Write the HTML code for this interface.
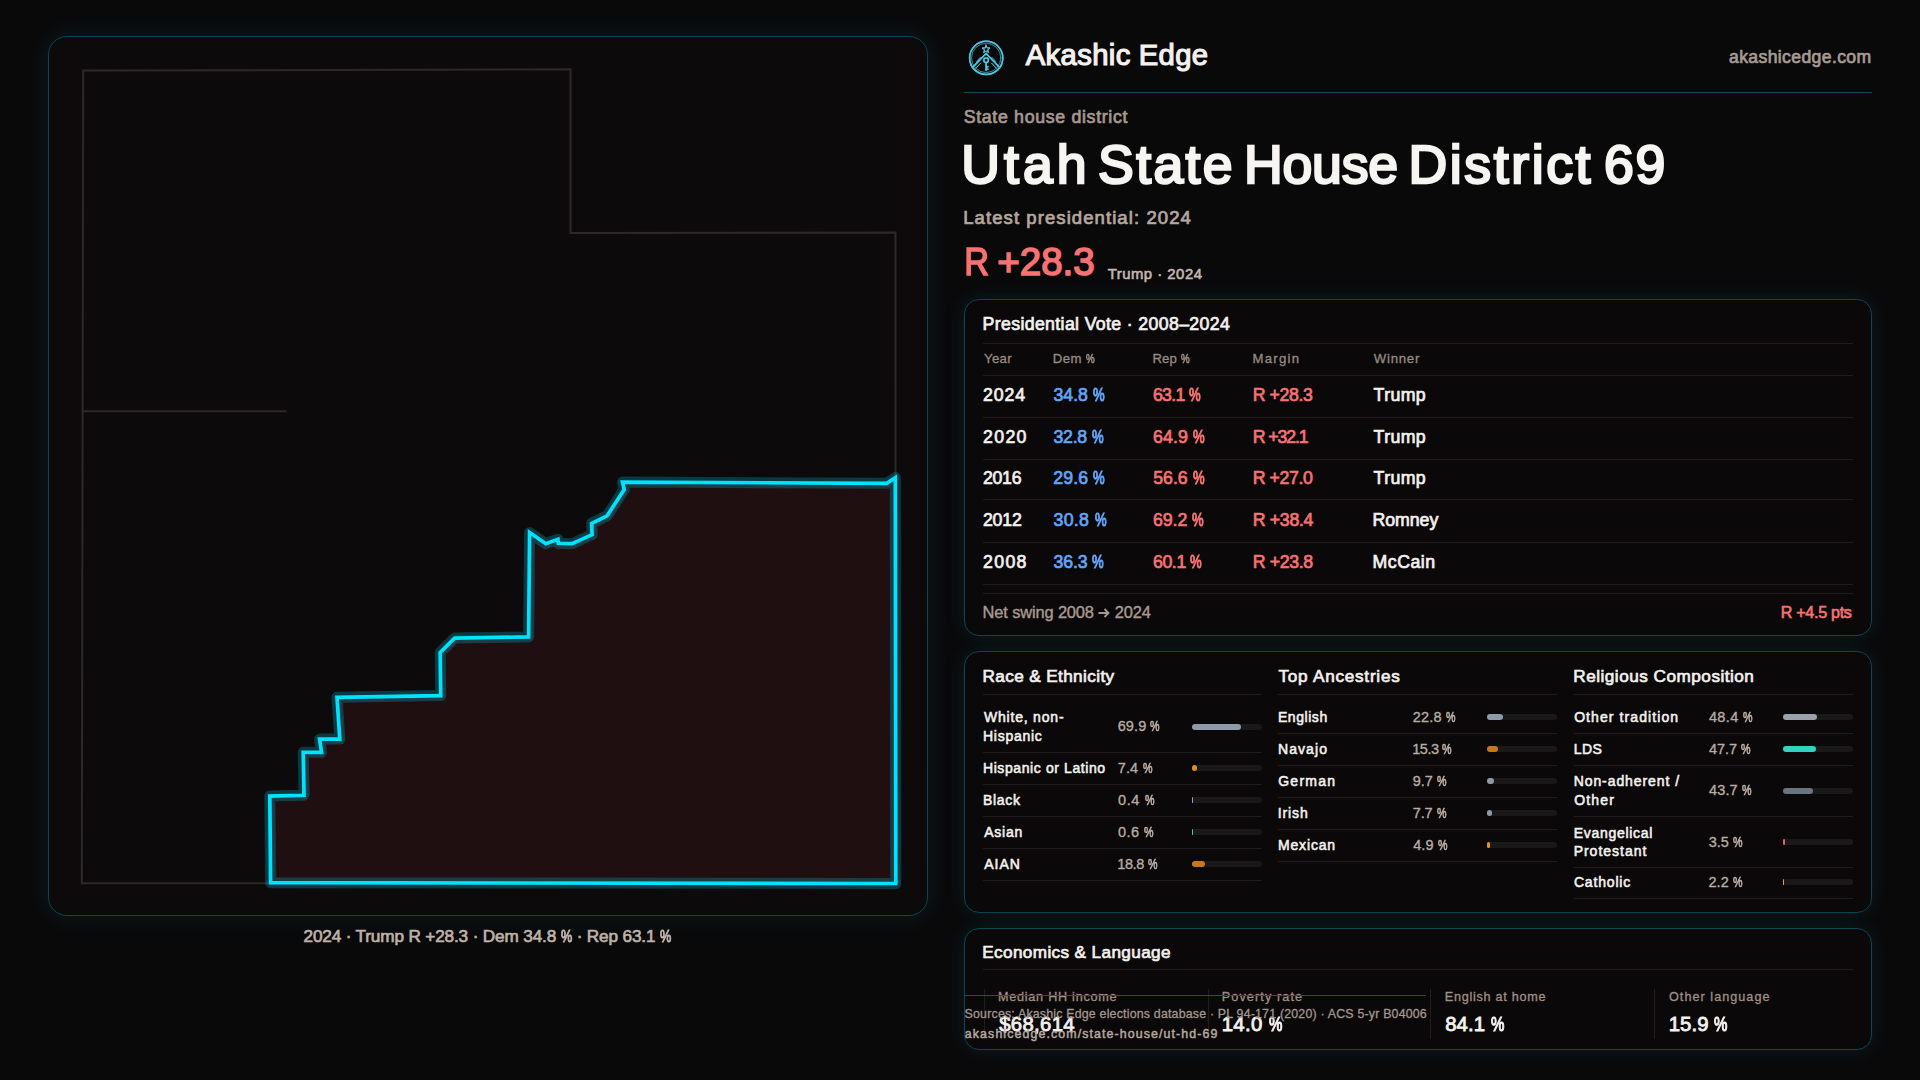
<!DOCTYPE html>
<html><head><meta charset="utf-8"><title>Utah State House District 69</title>
<style>
html,body{margin:0;padding:0;}
body{width:1920px;height:1080px;overflow:hidden;background:#0a090a;position:relative;font-family:"Liberation Sans", sans-serif;}
.t{position:absolute;white-space:nowrap;line-height:1;}
.panel{position:absolute;box-sizing:border-box;border:1px solid #0b4652;background:#0a0809;box-shadow:0 0 20px rgba(34,200,230,0.11);}
.sep{position:absolute;height:1px;background:#201c1d;}
.vsep{position:absolute;width:1px;background:#201c1d;}
.trk{position:absolute;height:6px;border-radius:3px;background:#1a191a;width:70px;}
.pc{display:inline-block;transform:scaleX(.74);transform-origin:0 0;width:.66em;-webkit-text-stroke-color:currentColor}.ar{display:inline-block;vertical-align:baseline;position:relative;top:0.5px}
.fil{position:absolute;left:0;top:0;height:6px;border-radius:3px;}
</style></head><body>

<div class="panel" style="left:48px;top:36px;width:880px;height:880px;border-radius:19px;background:#0c0a0b;box-shadow:0 0 26px rgba(34,200,230,0.11);"></div>
<svg style="position:absolute;left:0;top:0" width="1920" height="1080" viewBox="0 0 1920 1080">
<path d="M83.2,70.6 L570.5,69.3 L570.5,233.1 L895.5,232.5 L895.6,883.3 L81.8,883.3 Z M83.1,411.3 L286.3,411.3" fill="none" stroke="#2d2929" stroke-width="2"/>
<path d="M895.8,883.5 L270.6,882.7 L269.8,796.1 L304.0,795.3 L303.2,752.3 L321.5,752.3 L319.6,739.1 L339.8,739.1 L337.0,697.3 L440.7,695.6 L440.2,652.5 L454.6,638.1 L528.6,636.9 L529.6,532.5 L545.8,543.7 L557.9,539.2 L558.3,543.3 L572.1,543.7 L592.1,534.6 L591.7,523.3 L607.1,515.8 L624.2,489.6 L622.5,482.1 L886.7,483.3 L895.3,477.6 Z" fill="#1f0f11" stroke="rgba(0,200,235,0.25)" stroke-width="11" stroke-linejoin="round"/>
<path d="M895.8,883.5 L270.6,882.7 L269.8,796.1 L304.0,795.3 L303.2,752.3 L321.5,752.3 L319.6,739.1 L339.8,739.1 L337.0,697.3 L440.7,695.6 L440.2,652.5 L454.6,638.1 L528.6,636.9 L529.6,532.5 L545.8,543.7 L557.9,539.2 L558.3,543.3 L572.1,543.7 L592.1,534.6 L591.7,523.3 L607.1,515.8 L624.2,489.6 L622.5,482.1 L886.7,483.3 L895.3,477.6 Z" fill="none" stroke="#00e3ff" stroke-width="3.7" stroke-linejoin="miter"/>
</svg>
<svg style="position:absolute;left:962px;top:34px" width="48" height="48" viewBox="0 0 48 48">
<defs><filter id="gl" x="-30%" y="-30%" width="160%" height="160%"><feGaussianBlur stdDeviation="0.6" result="b"/><feMerge><feMergeNode in="b"/><feMergeNode in="SourceGraphic"/></feMerge></filter></defs>
<g fill="none" stroke="#48c6de" filter="url(#gl)" stroke-linecap="round" stroke-linejoin="round">
<circle cx="24.2" cy="23.9" r="16.6" stroke-width="1.5"/>
<circle cx="24.2" cy="23.9" r="14.7" stroke-width="0.7" opacity="0.6"/>
<path d="M11.5 32.5 L24.1 19.4 L36.7 32.5" stroke-width="1.5"/>
<path d="M13.8 34.2 L18.6 29.2 M34.4 34.2 L29.6 29.2" stroke-width="1.0" opacity="0.75"/>
<path d="M14.5 27.5 L18.4 23.3 M33.7 27.5 L29.8 23.3" stroke-width="0.9" opacity="0.6"/>
<path d="M24.1 11.2 L25.1 13.9 L28 14 L25.7 15.8 L26.5 18.6 L24.1 17 L21.7 18.6 L22.5 15.8 L20.2 14 L23.1 13.9 Z" stroke-width="1.0"/>
<circle cx="24.1" cy="26.2" r="2.3" stroke-width="1.4"/>
<path d="M24.1 28.5 L24.1 36.6 M24.1 32.8 L26.1 32.8 M24.1 35.1 L26.1 35.1" stroke-width="1.4"/>
</g></svg>
<div style="position:absolute;left:964px;top:92px;width:908px;height:1px;background:#0e4854"></div>
<div class="panel" style="left:964px;top:299px;width:908px;height:337px;border-radius:15px;"></div>
<div class="panel" style="left:964px;top:651px;width:908px;height:262px;border-radius:15px;"></div>
<div class="panel" style="left:964px;top:928px;width:908px;height:122px;border-radius:15px;"></div>
<div class="sep" style="left:983px;top:343px;width:870px"></div>
<div class="sep" style="left:983px;top:375px;width:870px"></div>
<div class="sep" style="left:983px;top:417px;width:870px"></div>
<div class="sep" style="left:983px;top:459px;width:870px"></div>
<div class="sep" style="left:983px;top:499px;width:870px"></div>
<div class="sep" style="left:983px;top:542px;width:870px"></div>
<div class="sep" style="left:983px;top:584px;width:870px"></div>
<div class="sep" style="left:983px;top:593px;width:870px"></div>
<div class="sep" style="left:983px;top:694px;width:279px"></div>
<div class="sep" style="left:983px;top:752px;width:279px"></div>
<div class="sep" style="left:983px;top:784px;width:279px"></div>
<div class="sep" style="left:983px;top:816px;width:279px"></div>
<div class="sep" style="left:983px;top:848px;width:279px"></div>
<div class="sep" style="left:983px;top:880px;width:279px"></div>
<div class="sep" style="left:1278px;top:694px;width:279px"></div>
<div class="sep" style="left:1278px;top:733px;width:279px"></div>
<div class="sep" style="left:1278px;top:765px;width:279px"></div>
<div class="sep" style="left:1278px;top:797px;width:279px"></div>
<div class="sep" style="left:1278px;top:829px;width:279px"></div>
<div class="sep" style="left:1278px;top:861px;width:279px"></div>
<div class="sep" style="left:1574px;top:694px;width:279px"></div>
<div class="sep" style="left:1574px;top:733px;width:279px"></div>
<div class="sep" style="left:1574px;top:765px;width:279px"></div>
<div class="sep" style="left:1574px;top:816px;width:279px"></div>
<div class="sep" style="left:1574px;top:867px;width:279px"></div>
<div class="sep" style="left:1574px;top:898px;width:279px"></div>
<div class="trk" style="left:1192.0px;top:724.0px"><div class="fil" style="width:48.9px;background:#8e99aa"></div></div>
<div class="trk" style="left:1192.0px;top:764.9px"><div class="fil" style="width:5.2px;background:#d98e1a"></div></div>
<div class="trk" style="left:1192.0px;top:796.8px"><div class="fil" style="width:1.0px;background:#a78bfa"></div></div>
<div class="trk" style="left:1192.0px;top:828.8px"><div class="fil" style="width:1.0px;background:#34d399"></div></div>
<div class="trk" style="left:1192.0px;top:860.9px"><div class="fil" style="width:13.2px;background:#c8781a"></div></div>
<div class="trk" style="left:1487.0px;top:713.8px"><div class="fil" style="width:16.0px;background:#8e99aa"></div></div>
<div class="trk" style="left:1487.0px;top:745.8px"><div class="fil" style="width:10.7px;background:#c8781a"></div></div>
<div class="trk" style="left:1487.0px;top:777.8px"><div class="fil" style="width:6.8px;background:#8e99aa"></div></div>
<div class="trk" style="left:1487.0px;top:809.8px"><div class="fil" style="width:5.4px;background:#8e99aa"></div></div>
<div class="trk" style="left:1487.0px;top:841.8px"><div class="fil" style="width:3.4px;background:#e3960f"></div></div>
<div class="trk" style="left:1782.7px;top:713.8px"><div class="fil" style="width:33.9px;background:#9ca0a8"></div></div>
<div class="trk" style="left:1782.7px;top:745.8px"><div class="fil" style="width:33.4px;background:#2dd4bf"></div></div>
<div class="trk" style="left:1782.7px;top:787.8px"><div class="fil" style="width:30.6px;background:#6b7280"></div></div>
<div class="trk" style="left:1782.7px;top:838.8px"><div class="fil" style="width:2.5px;background:#e06666"></div></div>
<div class="trk" style="left:1782.7px;top:878.8px"><div class="fil" style="width:1.5px;background:#e0a820"></div></div>
<div class="sep" style="left:983px;top:969px;width:870px"></div>
<div class="vsep" style="left:984px;top:989px;height:50px"></div>
<div class="vsep" style="left:1208px;top:989px;height:50px"></div>
<div class="vsep" style="left:1430px;top:989px;height:50px"></div>
<div class="vsep" style="left:1654px;top:989px;height:50px"></div>
<div class="t" style="left:1025.65px;top:41.45px;font-size:29.26px;font-weight:400;letter-spacing:0.368px;color:#f4f1ee;-webkit-text-stroke:1.17px #f4f1ee;">Akashic</div>
<div class="t" style="left:1138.75px;top:41.45px;font-size:29.26px;font-weight:400;letter-spacing:0.301px;color:#f4f1ee;-webkit-text-stroke:1.17px #f4f1ee;">Edge</div>
<div class="t" style="left:1729.05px;top:48.97px;font-size:17.58px;font-weight:400;letter-spacing:0.375px;color:#a89b93;-webkit-text-stroke:0.703px #a89b93;">akashicedge.com</div>
<div class="t" style="left:963.70px;top:109.45px;font-size:17.72px;font-weight:400;letter-spacing:0.695px;color:#a69890;-webkit-text-stroke:0.709px #a69890;">State house district</div>
<div class="t" style="left:961.20px;top:138.00px;font-size:53.62px;font-weight:400;letter-spacing:4.047px;color:#f7f5f2;-webkit-text-stroke:2.413px #f7f5f2;">Utah</div>
<div class="t" style="left:1098.10px;top:138.00px;font-size:53.62px;font-weight:400;letter-spacing:2.34px;color:#f7f5f2;-webkit-text-stroke:2.413px #f7f5f2;">State</div>
<div class="t" style="left:1244.05px;top:138.00px;font-size:53.62px;font-weight:400;letter-spacing:-0.237px;color:#f7f5f2;-webkit-text-stroke:2.413px #f7f5f2;">House</div>
<div class="t" style="left:1408.55px;top:138.00px;font-size:53.62px;font-weight:400;letter-spacing:2.586px;color:#f7f5f2;-webkit-text-stroke:2.413px #f7f5f2;">District</div>
<div class="t" style="left:1604.00px;top:138.00px;font-size:53.62px;font-weight:400;letter-spacing:1.614px;color:#f7f5f2;-webkit-text-stroke:2.413px #f7f5f2;">69</div>
<div class="t" style="left:963.20px;top:208.83px;font-size:18.54px;font-weight:400;letter-spacing:1.071px;color:#b5a79e;-webkit-text-stroke:0.742px #b5a79e;">Latest presidential: 2024</div>
<div class="t" style="left:964.25px;top:242.55px;font-size:38.6px;font-weight:400;letter-spacing:-0.062px;color:#f87171;-webkit-text-stroke:1.544px #f87171;transform:scaleX(0.89);transform-origin:2.25px 0;">R</div>
<div class="t" style="left:997.30px;top:242.55px;font-size:38.6px;font-weight:400;letter-spacing:-0.062px;color:#f87171;-webkit-text-stroke:1.544px #f87171;">+28.3</div>
<div class="t" style="left:1107.70px;top:267.34px;font-size:14.84px;font-weight:400;letter-spacing:0.523px;color:#c5b8af;-webkit-text-stroke:0.594px #c5b8af;">Trump · 2024</div>
<div class="t" style="left:982.60px;top:316.45px;font-size:17.72px;font-weight:400;letter-spacing:0.357px;color:#f4f1ee;-webkit-text-stroke:0.709px #f4f1ee;">Presidential Vote · 2008–2024</div>
<div class="t" style="left:984.00px;top:352.27px;font-size:13.2px;font-weight:400;letter-spacing:0.342px;color:#978a83;-webkit-text-stroke:0.317px #978a83;">Year</div>
<div class="t" style="left:1052.75px;top:352.27px;font-size:13.2px;font-weight:400;letter-spacing:0.5px;color:#978a83;-webkit-text-stroke:0.317px #978a83;">Dem <span class="pc" style="-webkit-text-stroke-width:0.67px">%</span></div>
<div class="t" style="left:1152.50px;top:352.27px;font-size:13.2px;font-weight:400;letter-spacing:0.064px;color:#978a83;-webkit-text-stroke:0.317px #978a83;">Rep <span class="pc" style="-webkit-text-stroke-width:0.67px">%</span></div>
<div class="t" style="left:1252.50px;top:352.27px;font-size:13.2px;font-weight:400;letter-spacing:1.255px;color:#978a83;-webkit-text-stroke:0.317px #978a83;">Margin</div>
<div class="t" style="left:1373.75px;top:352.27px;font-size:13.2px;font-weight:400;letter-spacing:0.755px;color:#978a83;-webkit-text-stroke:0.317px #978a83;">Winner</div>
<div class="t" style="left:982.60px;top:603.50px;font-size:16.43px;font-weight:400;letter-spacing:-0.138px;color:#a89a91;-webkit-text-stroke:0.394px #a89a91;">Net swing 2008 <svg class="ar" width="12" height="10" viewBox="0 0 12 10"><path d="M0.5 5H10.5M6.5 1L10.5 5L6.5 9" fill="none" stroke="currentColor" stroke-width="1.8"/></svg> 2024</div>
<div class="t" style="left:1780.70px;top:603.68px;font-size:16.07px;font-weight:400;letter-spacing:-0.278px;color:#f87171;-webkit-text-stroke:0.643px #f87171;">R +4.5 pts</div>
<div class="t" style="left:982.50px;top:668.22px;font-size:17.17px;font-weight:400;letter-spacing:0.383px;color:#f4f1ee;-webkit-text-stroke:0.687px #f4f1ee;">Race & Ethnicity</div>
<div class="t" style="left:1278.50px;top:668.22px;font-size:17.17px;font-weight:400;letter-spacing:0.745px;color:#f4f1ee;-webkit-text-stroke:0.687px #f4f1ee;">Top Ancestries</div>
<div class="t" style="left:1573.30px;top:668.22px;font-size:17.17px;font-weight:400;letter-spacing:0.496px;color:#f4f1ee;-webkit-text-stroke:0.687px #f4f1ee;">Religious Composition</div>
<div class="t" style="left:982.25px;top:943.92px;font-size:17.17px;font-weight:400;letter-spacing:0.37px;color:#f4f1ee;-webkit-text-stroke:0.687px #f4f1ee;">Economics & Language</div>
<div class="t" style="left:303.50px;top:927.92px;font-size:17.17px;font-weight:400;letter-spacing:-0.143px;color:#bfb2a9;-webkit-text-stroke:0.687px #bfb2a9;">2024 · Trump R +28.3 · Dem 34.8 <span class="pc" style="-webkit-text-stroke-width:1.04px">%</span> · Rep 63.1 <span class="pc" style="-webkit-text-stroke-width:1.04px">%</span></div>
<div class="t" style="left:982.90px;top:387.05px;font-size:17.72px;font-weight:400;letter-spacing:0.949px;color:#f4f1ee;-webkit-text-stroke:0.709px #f4f1ee;">2024</div>
<div class="t" style="left:1053.50px;top:387.05px;font-size:17.72px;font-weight:400;letter-spacing:0.0px;color:#60a5fa;-webkit-text-stroke:0.709px #60a5fa;">34.8 <span class="pc" style="-webkit-text-stroke-width:1.06px">%</span></div>
<div class="t" style="left:1152.90px;top:387.05px;font-size:17.72px;font-weight:400;letter-spacing:-0.66px;color:#f87171;-webkit-text-stroke:0.709px #f87171;">63.1 <span class="pc" style="-webkit-text-stroke-width:1.06px">%</span></div>
<div class="t" style="left:1252.70px;top:387.05px;font-size:17.72px;font-weight:400;letter-spacing:-0.384px;color:#f87171;-webkit-text-stroke:0.709px #f87171;">R +28.3</div>
<div class="t" style="left:1373.60px;top:387.05px;font-size:17.72px;font-weight:400;letter-spacing:0.388px;color:#f4f1ee;-webkit-text-stroke:0.709px #f4f1ee;">Trump</div>
<div class="t" style="left:982.90px;top:429.05px;font-size:17.72px;font-weight:400;letter-spacing:1.399px;color:#f4f1ee;-webkit-text-stroke:0.709px #f4f1ee;">2020</div>
<div class="t" style="left:1053.50px;top:429.05px;font-size:17.72px;font-weight:400;letter-spacing:-0.25px;color:#60a5fa;-webkit-text-stroke:0.709px #60a5fa;">32.8 <span class="pc" style="-webkit-text-stroke-width:1.06px">%</span></div>
<div class="t" style="left:1152.90px;top:429.05px;font-size:17.72px;font-weight:400;letter-spacing:0.2px;color:#f87171;-webkit-text-stroke:0.709px #f87171;">64.9 <span class="pc" style="-webkit-text-stroke-width:1.06px">%</span></div>
<div class="t" style="left:1252.70px;top:429.05px;font-size:17.72px;font-weight:400;letter-spacing:-1.101px;color:#f87171;-webkit-text-stroke:0.709px #f87171;">R +32.1</div>
<div class="t" style="left:1373.60px;top:429.05px;font-size:17.72px;font-weight:400;letter-spacing:0.388px;color:#f4f1ee;-webkit-text-stroke:0.709px #f4f1ee;">Trump</div>
<div class="t" style="left:982.90px;top:470.05px;font-size:17.72px;font-weight:400;letter-spacing:-0.251px;color:#f4f1ee;-webkit-text-stroke:0.709px #f4f1ee;">2016</div>
<div class="t" style="left:1053.25px;top:470.05px;font-size:17.72px;font-weight:400;letter-spacing:0.1px;color:#60a5fa;-webkit-text-stroke:0.709px #60a5fa;">29.6 <span class="pc" style="-webkit-text-stroke-width:1.06px">%</span></div>
<div class="t" style="left:1153.15px;top:470.05px;font-size:17.72px;font-weight:400;letter-spacing:0.03px;color:#f87171;-webkit-text-stroke:0.709px #f87171;">56.6 <span class="pc" style="-webkit-text-stroke-width:1.06px">%</span></div>
<div class="t" style="left:1252.70px;top:470.05px;font-size:17.72px;font-weight:400;letter-spacing:-0.393px;color:#f87171;-webkit-text-stroke:0.709px #f87171;">R +27.0</div>
<div class="t" style="left:1373.60px;top:470.05px;font-size:17.72px;font-weight:400;letter-spacing:0.388px;color:#f4f1ee;-webkit-text-stroke:0.709px #f4f1ee;">Trump</div>
<div class="t" style="left:982.90px;top:512.05px;font-size:17.72px;font-weight:400;letter-spacing:-0.167px;color:#f4f1ee;-webkit-text-stroke:0.709px #f4f1ee;">2012</div>
<div class="t" style="left:1053.50px;top:512.05px;font-size:17.72px;font-weight:400;letter-spacing:0.33px;color:#60a5fa;-webkit-text-stroke:0.709px #60a5fa;">30.8 <span class="pc" style="-webkit-text-stroke-width:1.06px">%</span></div>
<div class="t" style="left:1152.90px;top:512.05px;font-size:17.72px;font-weight:400;letter-spacing:-0.02px;color:#f87171;-webkit-text-stroke:0.709px #f87171;">69.2 <span class="pc" style="-webkit-text-stroke-width:1.06px">%</span></div>
<div class="t" style="left:1252.70px;top:512.05px;font-size:17.72px;font-weight:400;letter-spacing:-0.292px;color:#f87171;-webkit-text-stroke:0.709px #f87171;">R +38.4</div>
<div class="t" style="left:1372.60px;top:512.05px;font-size:17.72px;font-weight:400;letter-spacing:-0.052px;color:#f4f1ee;-webkit-text-stroke:0.709px #f4f1ee;">Romney</div>
<div class="t" style="left:982.90px;top:553.85px;font-size:17.72px;font-weight:400;letter-spacing:1.398px;color:#f4f1ee;-webkit-text-stroke:0.709px #f4f1ee;">2008</div>
<div class="t" style="left:1053.50px;top:553.85px;font-size:17.72px;font-weight:400;letter-spacing:-0.15px;color:#60a5fa;-webkit-text-stroke:0.709px #60a5fa;">36.3 <span class="pc" style="-webkit-text-stroke-width:1.06px">%</span></div>
<div class="t" style="left:1152.90px;top:553.85px;font-size:17.72px;font-weight:400;letter-spacing:-0.36px;color:#f87171;-webkit-text-stroke:0.709px #f87171;">60.1 <span class="pc" style="-webkit-text-stroke-width:1.06px">%</span></div>
<div class="t" style="left:1252.70px;top:553.85px;font-size:17.72px;font-weight:400;letter-spacing:-0.351px;color:#f87171;-webkit-text-stroke:0.709px #f87171;">R +23.8</div>
<div class="t" style="left:1372.60px;top:553.85px;font-size:17.72px;font-weight:400;letter-spacing:0.508px;color:#f4f1ee;-webkit-text-stroke:0.709px #f4f1ee;">McCain</div>
<div class="t" style="left:983.95px;top:710.36px;font-size:14.01px;font-weight:400;letter-spacing:0.802px;color:#f4f1ee;-webkit-text-stroke:0.56px #f4f1ee;">White, non-</div>
<div class="t" style="left:982.95px;top:728.96px;font-size:14.01px;font-weight:400;letter-spacing:0.747px;color:#f4f1ee;-webkit-text-stroke:0.56px #f4f1ee;">Hispanic</div>
<div class="t" style="left:1117.70px;top:719.08px;font-size:14.47px;font-weight:400;letter-spacing:0.12px;color:#b9aca3;-webkit-text-stroke:0.347px #b9aca3;">69.9 <span class="pc" style="-webkit-text-stroke-width:0.70px">%</span></div>
<div class="t" style="left:982.95px;top:761.06px;font-size:14.01px;font-weight:400;letter-spacing:0.597px;color:#f4f1ee;-webkit-text-stroke:0.56px #f4f1ee;">Hispanic or Latino</div>
<div class="t" style="left:1117.70px;top:760.78px;font-size:14.47px;font-weight:400;letter-spacing:0.17px;color:#b9aca3;-webkit-text-stroke:0.347px #b9aca3;">7.4 <span class="pc" style="-webkit-text-stroke-width:0.70px">%</span></div>
<div class="t" style="left:982.95px;top:793.16px;font-size:14.01px;font-weight:400;letter-spacing:0.696px;color:#f4f1ee;-webkit-text-stroke:0.56px #f4f1ee;">Black</div>
<div class="t" style="left:1117.95px;top:792.88px;font-size:14.47px;font-weight:400;letter-spacing:0.684px;color:#b9aca3;-webkit-text-stroke:0.347px #b9aca3;">0.4 <span class="pc" style="-webkit-text-stroke-width:0.70px">%</span></div>
<div class="t" style="left:984.20px;top:825.26px;font-size:14.01px;font-weight:400;letter-spacing:0.798px;color:#f4f1ee;-webkit-text-stroke:0.56px #f4f1ee;">Asian</div>
<div class="t" style="left:1117.95px;top:824.98px;font-size:14.47px;font-weight:400;letter-spacing:0.556px;color:#b9aca3;-webkit-text-stroke:0.347px #b9aca3;">0.6 <span class="pc" style="-webkit-text-stroke-width:0.70px">%</span></div>
<div class="t" style="left:984.20px;top:857.26px;font-size:14.01px;font-weight:400;letter-spacing:1.014px;color:#f4f1ee;-webkit-text-stroke:0.56px #f4f1ee;">AIAN</div>
<div class="t" style="left:1117.20px;top:856.98px;font-size:14.47px;font-weight:400;letter-spacing:-0.34px;color:#b9aca3;-webkit-text-stroke:0.347px #b9aca3;">18.8 <span class="pc" style="-webkit-text-stroke-width:0.70px">%</span></div>
<div class="t" style="left:1277.95px;top:710.16px;font-size:14.01px;font-weight:400;letter-spacing:0.555px;color:#f4f1ee;-webkit-text-stroke:0.56px #f4f1ee;">English</div>
<div class="t" style="left:1412.70px;top:709.88px;font-size:14.47px;font-weight:400;letter-spacing:0.2px;color:#b9aca3;-webkit-text-stroke:0.347px #b9aca3;">22.8 <span class="pc" style="-webkit-text-stroke-width:0.70px">%</span></div>
<div class="t" style="left:1277.95px;top:742.16px;font-size:14.01px;font-weight:400;letter-spacing:1.097px;color:#f4f1ee;-webkit-text-stroke:0.56px #f4f1ee;">Navajo</div>
<div class="t" style="left:1412.20px;top:741.88px;font-size:14.47px;font-weight:400;letter-spacing:-0.44px;color:#b9aca3;-webkit-text-stroke:0.347px #b9aca3;">15.3 <span class="pc" style="-webkit-text-stroke-width:0.70px">%</span></div>
<div class="t" style="left:1278.20px;top:774.16px;font-size:14.01px;font-weight:400;letter-spacing:1.277px;color:#f4f1ee;-webkit-text-stroke:0.56px #f4f1ee;">German</div>
<div class="t" style="left:1412.70px;top:773.88px;font-size:14.47px;font-weight:400;letter-spacing:0.02px;color:#b9aca3;-webkit-text-stroke:0.347px #b9aca3;">9.7 <span class="pc" style="-webkit-text-stroke-width:0.70px">%</span></div>
<div class="t" style="left:1277.70px;top:806.16px;font-size:14.01px;font-weight:400;letter-spacing:0.91px;color:#f4f1ee;-webkit-text-stroke:0.56px #f4f1ee;">Irish</div>
<div class="t" style="left:1412.70px;top:805.88px;font-size:14.47px;font-weight:400;letter-spacing:-0.08px;color:#b9aca3;-webkit-text-stroke:0.347px #b9aca3;">7.7 <span class="pc" style="-webkit-text-stroke-width:0.70px">%</span></div>
<div class="t" style="left:1277.95px;top:838.16px;font-size:14.01px;font-weight:400;letter-spacing:0.847px;color:#f4f1ee;-webkit-text-stroke:0.56px #f4f1ee;">Mexican</div>
<div class="t" style="left:1413.20px;top:837.88px;font-size:14.47px;font-weight:400;letter-spacing:0.12px;color:#b9aca3;-webkit-text-stroke:0.347px #b9aca3;">4.9 <span class="pc" style="-webkit-text-stroke-width:0.70px">%</span></div>
<div class="t" style="left:1574.15px;top:710.16px;font-size:14.01px;font-weight:400;letter-spacing:1.085px;color:#f4f1ee;-webkit-text-stroke:0.56px #f4f1ee;">Other tradition</div>
<div class="t" style="left:1708.90px;top:709.88px;font-size:14.47px;font-weight:400;letter-spacing:0.4px;color:#b9aca3;-webkit-text-stroke:0.347px #b9aca3;">48.4 <span class="pc" style="-webkit-text-stroke-width:0.70px">%</span></div>
<div class="t" style="left:1573.65px;top:742.16px;font-size:14.01px;font-weight:400;letter-spacing:0.522px;color:#f4f1ee;-webkit-text-stroke:0.56px #f4f1ee;">LDS</div>
<div class="t" style="left:1708.90px;top:741.88px;font-size:14.47px;font-weight:400;letter-spacing:0.02px;color:#b9aca3;-webkit-text-stroke:0.347px #b9aca3;">47.7 <span class="pc" style="-webkit-text-stroke-width:0.70px">%</span></div>
<div class="t" style="left:1573.65px;top:774.46px;font-size:14.01px;font-weight:400;letter-spacing:0.924px;color:#f4f1ee;-webkit-text-stroke:0.56px #f4f1ee;">Non-adherent /</div>
<div class="t" style="left:1574.15px;top:792.96px;font-size:14.01px;font-weight:400;letter-spacing:1.186px;color:#f4f1ee;-webkit-text-stroke:0.56px #f4f1ee;">Other</div>
<div class="t" style="left:1708.90px;top:783.38px;font-size:14.47px;font-weight:400;letter-spacing:0.2px;color:#b9aca3;-webkit-text-stroke:0.347px #b9aca3;">43.7 <span class="pc" style="-webkit-text-stroke-width:0.70px">%</span></div>
<div class="t" style="left:1573.65px;top:825.56px;font-size:14.01px;font-weight:400;letter-spacing:0.712px;color:#f4f1ee;-webkit-text-stroke:0.56px #f4f1ee;">Evangelical</div>
<div class="t" style="left:1573.65px;top:844.06px;font-size:14.01px;font-weight:400;letter-spacing:0.991px;color:#f4f1ee;-webkit-text-stroke:0.56px #f4f1ee;">Protestant</div>
<div class="t" style="left:1708.65px;top:834.58px;font-size:14.47px;font-weight:400;letter-spacing:-0.041px;color:#b9aca3;-webkit-text-stroke:0.347px #b9aca3;">3.5 <span class="pc" style="-webkit-text-stroke-width:0.70px">%</span></div>
<div class="t" style="left:1573.90px;top:874.96px;font-size:14.01px;font-weight:400;letter-spacing:0.832px;color:#f4f1ee;-webkit-text-stroke:0.56px #f4f1ee;">Catholic</div>
<div class="t" style="left:1708.40px;top:874.68px;font-size:14.47px;font-weight:400;letter-spacing:0.145px;color:#b9aca3;-webkit-text-stroke:0.347px #b9aca3;">2.2 <span class="pc" style="-webkit-text-stroke-width:0.70px">%</span></div>
<div class="t" style="left:998.00px;top:990.95px;font-size:12.64px;font-weight:400;letter-spacing:0.746px;color:#a09088;-webkit-text-stroke:0.303px #a09088;">Median HH income</div>
<div class="t" style="left:999.20px;top:1013.98px;font-size:20.33px;font-weight:400;letter-spacing:0.322px;color:#f4f1ee;-webkit-text-stroke:0.813px #f4f1ee;">$68,614</div>
<div class="t" style="left:1221.75px;top:990.95px;font-size:12.64px;font-weight:400;letter-spacing:1.11px;color:#a09088;-webkit-text-stroke:0.303px #a09088;">Poverty rate</div>
<div class="t" style="left:1221.70px;top:1013.98px;font-size:20.33px;font-weight:400;letter-spacing:0.33px;color:#f4f1ee;-webkit-text-stroke:0.813px #f4f1ee;">14.0 <span class="pc" style="-webkit-text-stroke-width:1.16px">%</span></div>
<div class="t" style="left:1444.75px;top:990.95px;font-size:12.64px;font-weight:400;letter-spacing:0.728px;color:#a09088;-webkit-text-stroke:0.303px #a09088;">English at home</div>
<div class="t" style="left:1445.20px;top:1013.98px;font-size:20.33px;font-weight:400;letter-spacing:0.06px;color:#f4f1ee;-webkit-text-stroke:0.813px #f4f1ee;">84.1 <span class="pc" style="-webkit-text-stroke-width:1.16px">%</span></div>
<div class="t" style="left:1669.00px;top:990.95px;font-size:12.64px;font-weight:400;letter-spacing:1.034px;color:#a09088;-webkit-text-stroke:0.303px #a09088;">Other language</div>
<div class="t" style="left:1668.70px;top:1013.98px;font-size:20.33px;font-weight:400;letter-spacing:0.06px;color:#f4f1ee;-webkit-text-stroke:0.813px #f4f1ee;">15.9 <span class="pc" style="-webkit-text-stroke-width:1.16px">%</span></div>
<div class="t" style="left:964.60px;top:1007.99px;font-size:12.36px;font-weight:400;letter-spacing:0.202px;color:#a39790;-webkit-text-stroke:0.297px #a39790;z-index:3;">Sources: Akashic Edge elections database · PL 94-171 (2020) · ACS 5-yr B04006</div>
<div class="t" style="left:964.85px;top:1027.89px;font-size:12.36px;font-weight:400;letter-spacing:1.107px;color:#b5a79f;-webkit-text-stroke:0.494px #b5a79f;z-index:3;">akashicedge.com/state-house/ut-hd-69</div>
<div style="position:absolute;left:964px;top:995px;width:462px;height:1px;background:#0f5866;z-index:2"></div>
</body></html>
